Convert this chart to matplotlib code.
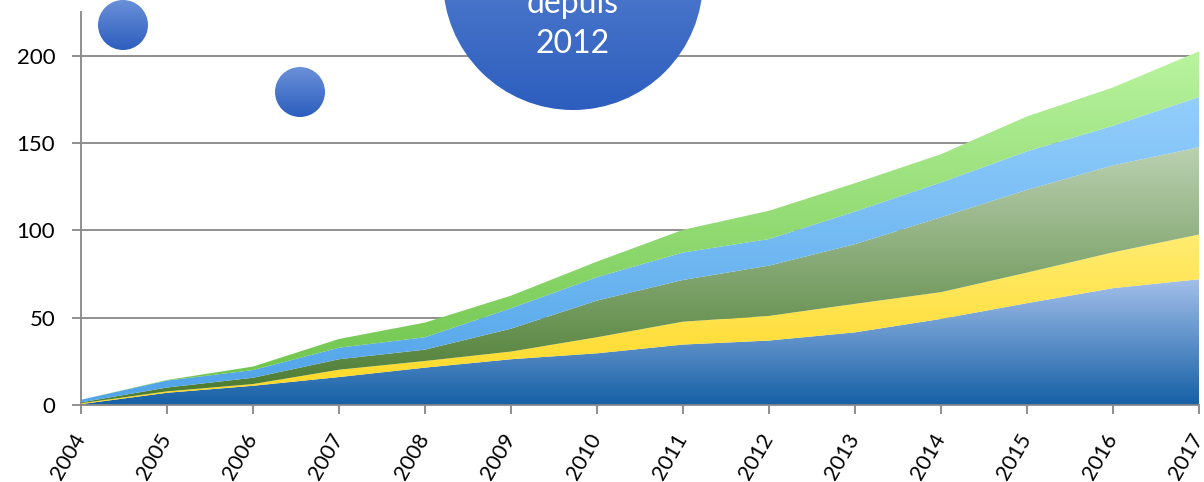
import numpy as np
import matplotlib
matplotlib.use("Agg")
import matplotlib.pyplot as plt
from matplotlib.colors import LinearSegmentedColormap
from matplotlib.patches import PathPatch, Circle

# ---------------- data ----------------
years = [2004, 2005, 2006, 2007, 2008, 2009, 2010, 2011, 2012, 2013, 2014, 2015, 2016, 2017]
blue = [0.5, 7, 11, 16, 21.4, 26.2, 29.6, 34.6, 36.9, 41.6, 49.3, 58.3, 66.9, 72]
yellow = [0.5, 0.8, 1, 4.2, 3.8, 4.4, 9.2, 13.1, 14.1, 16.3, 15.3, 17.5, 20.5, 25.6]
dkgreen = [0.5, 2.2, 3.6, 6, 6.5, 13.1, 21, 23.9, 28.8, 34.2, 42.9, 47.4, 49.8, 50]
ltblue = [1.5, 4, 4.4, 6.6, 7.1, 11.7, 13.4, 15.7, 15.2, 18.7, 19.9, 22, 22.7, 28.7]
green = [0, 0.3, 2, 5, 8.4, 7.2, 8.9, 13, 16.2, 16.2, 16.2, 20, 21.9, 26.2]
yticks = [0, 50, 100, 150, 200]
bubble_lines = ["depuis", "2012"]

series = [blue, yellow, dkgreen, ltblue, green]
# (low color, high color, value at low, value at high)
styles = [
    ("#1660A6", "#A8C3EC", 0, 75),
    ("#FFD820", "#FFEC72", 0, 100),
    ("#4E7E34", "#BCD2B3", 10, 150),
    ("#52A5E9", "#93CEFC", 10, 175),
    ("#70C54D", "#B8F39E", 15, 200),
]

W, H = 1204, 482
fig = plt.figure(figsize=(W / 100, H / 100), dpi=100)
FONT = "Lato"

ax = fig.add_axes([81 / W, (H - 405) / H, (1199 - 81) / W, (405 - 12) / H])
YMAX = 225
ax.set_xlim(years[0], years[-1])
ax.set_ylim(0, YMAX)

x = np.array(years, dtype=float)
base = np.zeros(len(years))
yv = np.linspace(0, YMAX, 512)
for vals, (c0, c1, v0, v1) in zip(series, styles):
    top = base + np.array(vals, dtype=float)
    poly = ax.fill_between(x, base, top, color="none", lw=0)
    path = poly.get_paths()[0]
    patch = PathPatch(path, transform=ax.transData, facecolor="none", edgecolor="none")
    ax.add_patch(patch)
    cmap = LinearSegmentedColormap.from_list("g", [c0, c1])
    grad = np.clip((yv - v0) / (v1 - v0), 0, 1).reshape(-1, 1)
    im = ax.imshow(grad, extent=[x[0], x[-1], 0, YMAX], origin="lower", cmap=cmap,
                   vmin=0, vmax=1, aspect="auto", interpolation="bilinear", zorder=2)
    im.set_clip_path(patch)
    base = top

ax.set_xlim(years[0], years[-1])
ax.set_ylim(0, YMAX)

gray = "#878787"
ax.set_yticks(yticks)
ax.set_xticks(years)
ax.set_yticklabels([str(t) for t in yticks], fontsize=16, family=FONT)
ax.set_xticklabels([str(y) for y in years], rotation=60, ha="right", va="center",
                   rotation_mode="anchor", fontsize=15.5, family=FONT)
ax.tick_params(axis="both", colors=gray, labelcolor="black", length=6.5, width=1.3, direction="out")
ax.tick_params(axis="x", pad=15)
ax.tick_params(axis="y", pad=12)
ax.grid(axis="y", color=gray, lw=1.3, zorder=1)
ax.set_axisbelow(True)
for s in ["top", "right"]:
    ax.spines[s].set_visible(False)
for s in ["left", "bottom"]:
    ax.spines[s].set_color(gray)
    ax.spines[s].set_linewidth(1.3)
    ax.spines[s].set_zorder(3)

# overlay for decorative bubbles (pixel coordinates)
ov = fig.add_axes([0, 0, 1, 1])
ov.set_xlim(0, W)
ov.set_ylim(H, 0)
ov.axis("off")
ov.patch.set_alpha(0)
bcmap = LinearSegmentedColormap.from_list("b", ["#6A90D8", "#2D5EBE"])
for cx, cy, r in [(123, 25, 25), (300, 92, 25), (573, -20, 130)]:
    c = Circle((cx, cy), r, facecolor="none", edgecolor="none")
    ov.add_patch(c)
    g = np.linspace(0, 1, 256).reshape(-1, 1)
    im = ov.imshow(g, extent=[cx - r, cx + r, cy + r, cy - r], cmap=bcmap, aspect="auto",
                   interpolation="bilinear", zorder=5)
    im.set_clip_path(c)
ov.set_xlim(0, W)
ov.set_ylim(H, 0)
for line, yb in zip(bubble_lines, [13, 53]):
    ov.text(573, yb, line, color="white", fontsize=23, family=FONT, ha="center",
            va="baseline", zorder=6)

fig.savefig("out.png", dpi=100)
